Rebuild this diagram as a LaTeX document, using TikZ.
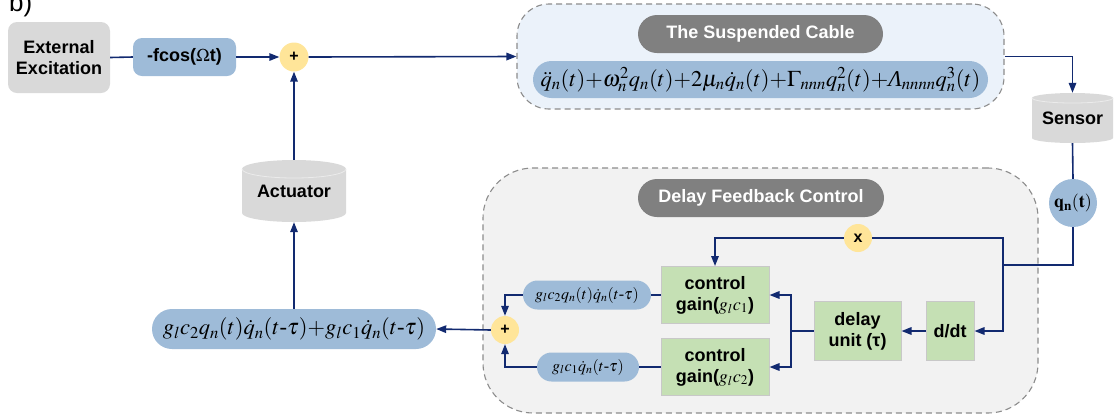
\documentclass[tikz,border=0pt]{standalone}
\usepackage{mathptmx}
\usepackage[no-math]{fontspec}
\setmainfont{Liberation Serif}
\setsansfont{Liberation Sans}
\newfontfamily\tms{Liberation Serif}
\usetikzlibrary{arrows.meta,calc}
\newcommand\pls{\mathord{+}}
\definecolor{navy}{RGB}{18,42,112}
\definecolor{cgray}{RGB}{217,217,217}
\definecolor{cblue}{RGB}{158,187,216}
\definecolor{cyellow}{RGB}{255,229,153}
\definecolor{cdark}{RGB}{128,128,128}
\definecolor{cgreen}{RGB}{197,224,180}
\definecolor{cgreenb}{RGB}{200,200,200}
\definecolor{cdash}{RGB}{140,140,140}
\definecolor{cablefill}{RGB}{235,242,250}
\definecolor{dfcfill}{RGB}{242,242,242}
\tikzset{
  lab/.style={font=\sffamily\bfseries\fontsize{18}{21}\selectfont, align=center, inner sep=0pt},
  gbox/.style={lab, fill=cgray, rounded corners=9pt},
  bpill/.style={fill=cblue, inner sep=0pt, align=center},
  ycirc/.style={circle, fill=cyellow, inner sep=0pt, minimum size=29pt, font=\sffamily\bfseries\fontsize{16}{16}\selectfont},
  dpill/.style={lab, fill=cdark, text=white, rounded corners=19pt},
  gstep/.style={lab, fill=cgreen, draw=cgreenb, line width=1pt},
  cont/.style={draw=cdash, dash pattern=on 6pt off 4pt, line width=1.1pt},
  ln/.style={draw=navy, line width=1.6pt},
  arr/.style={ln, -{Triangle[length=10pt,width=7.5pt]}},
  cylbody/.style={fill=cgray},
  cylrim/.style={draw=white!92!black, line width=0.8pt},
  mth/.style={font=\fontsize{#1}{#1}\selectfont}
}
\begin{document}
\begin{tikzpicture}[x=1pt,y=-1pt]
\useasboundingbox (0,0) rectangle (1118,416);

% label b)
\node[anchor=base west, inner sep=0pt, font=\sffamily\fontsize{26}{26}\selectfont] (blab) at (9,11) {b)};

% containers
\node[cont, fill=cablefill, rounded corners=32pt, minimum width=487pt, minimum height=105pt, inner sep=0pt] (cable) at (760.5,56.5) {};
\node[cont, fill=dfcfill, rounded corners=50pt, minimum width=555pt, minimum height=245pt, inner sep=0pt] (dfc) at (760.5,290.5) {};

% top row
\node[gbox, minimum width=102pt, minimum height=71pt] (ext) at (59,57.5) {External\\Excitation};
\node[lab, fill=cblue, rounded corners=9pt, minimum width=103pt, minimum height=38pt] (fcos) at (184.5,57) {-fcos(\(\Omega\)t)};
\node[ycirc] (plus1) at (294,57) {+};

\node[dpill, minimum width=245pt, minimum height=38pt] (title1) at (760.5,34) {The Suspended Cable};
\node[bpill, rounded corners=18.5pt, minimum width=455pt, minimum height=37pt, mth=22.5] (eq) at (760.5,79.5)
  {$\ddot{q}_n(t)\pls\omega_n^2q_n(t)\pls2\mu_n\dot{q}_n(t)\pls\Gamma_{nnn}q_n^2(t)\pls\mbox{\tms\itshape Λ}_{nnnn}q_n^3(t)$};

% sensor cylinder
\path[cylbody] (1032,98) -- (1032,138) arc[start angle=180,end angle=360,x radius=40.5pt,y radius=5pt]
  -- (1113,98) arc[start angle=0,end angle=180,x radius=40.5pt,y radius=5pt] -- cycle;
\draw[cylrim] (1032,98) arc[start angle=180,end angle=360,x radius=40.5pt,y radius=5pt];
\node[lab, minimum width=81pt, minimum height=50pt] (sensor) at (1072.5,118) {Sensor};

\node[circle, fill=cblue, inner sep=0pt, minimum size=48pt, font=\fontsize{18}{18}\selectfont] (qn) at (1073,203) {$\mathbf{q}_{\mathbf{n}}\mathbf{(t)}$};

% actuator cylinder
\path[cylbody] (242,169) -- (242,213) arc[start angle=180,end angle=360,x radius=52pt,y radius=9pt]
  -- (346,169) arc[start angle=0,end angle=180,x radius=52pt,y radius=9pt] -- cycle;
\draw[cylrim] (242,169) arc[start angle=180,end angle=360,x radius=52pt,y radius=9pt];
\node[lab, minimum width=104pt, minimum height=62pt] (act) at (294,191) {Actuator};

\node[bpill, rounded corners=20pt, minimum width=284pt, minimum height=40pt, mth=22.5] (big) at (294,329)
  {$g_lc_2q_n(t)\dot{q}_n(t\mbox{-}\tau)\pls g_lc_1\dot{q}_n(t\mbox{-}\tau)$};

% delay feedback control
\node[dpill, minimum width=246pt, minimum height=38pt] (title2) at (761,198) {Delay Feedback Control};
\node[ycirc, minimum size=28pt] (xc) at (858,238) {x};
\node[gstep, minimum width=108pt, minimum height=57pt] (g1) at (715,295) {control\\gain($g_lc_1$)};
\node[gstep, minimum width=108pt, minimum height=57pt] (g2) at (715,367) {control\\gain($g_lc_2$)};
\node[gstep, minimum width=87pt, minimum height=59pt] (delay) at (857.5,331) {delay\\unit (τ)};
\node[gstep, minimum width=48pt, minimum height=59pt] (ddt) at (950,331) {d/dt};
\node[bpill, rounded corners=14.5pt, minimum width=128pt, minimum height=29pt, mth=16] (pA) at (587,295)
  {$g_lc_2q_n(t)\dot{q}_n(t\mbox{-}\tau)$};
\node[bpill, rounded corners=14.5pt, minimum width=102pt, minimum height=29pt, mth=16] (pB) at (588,367)
  {$g_lc_1\dot{q}_n(t\mbox{-}\tau)$};
\node[ycirc, minimum size=28pt] (plus2) at (505,330) {+};

\coordinate (j1) at (1003,265);
\coordinate (split) at (791,331);

% connectors
\draw[ln] (ext.east) -- (fcos.west);
\draw[arr] (fcos.east) -- (plus1.west);
\draw[arr] (plus1.east) -- (cable.west);
\draw[arr] (cable.east) -| (sensor.north);
\draw[ln] (sensor.south) -- (qn.north);
\draw[ln] (qn.south) |- (j1);
\draw[ln] (xc.east) -| (j1);
\draw[arr] (j1) |- (ddt.east);
\draw[arr] (xc.west) -| (g1.north);
\draw[arr] (ddt.west) -- (delay.east);
\draw[ln] (delay.west) -- (split);
\draw[arr] (split) |- (g1.east);
\draw[arr] (split) |- (g2.east);
\draw[ln] (g1.west) -- (pA.east);
\draw[ln] (g2.west) -- (pB.east);
\draw[arr] (pA.west) -| (plus2.north);
\draw[arr] (pB.west) -| (plus2.south);
\draw[arr] (plus2.west) -- (big.east);
\draw[arr] (big.north) -- (act.south);
\draw[arr] (act.north) -- (plus1.south);
\end{tikzpicture}
\end{document}
